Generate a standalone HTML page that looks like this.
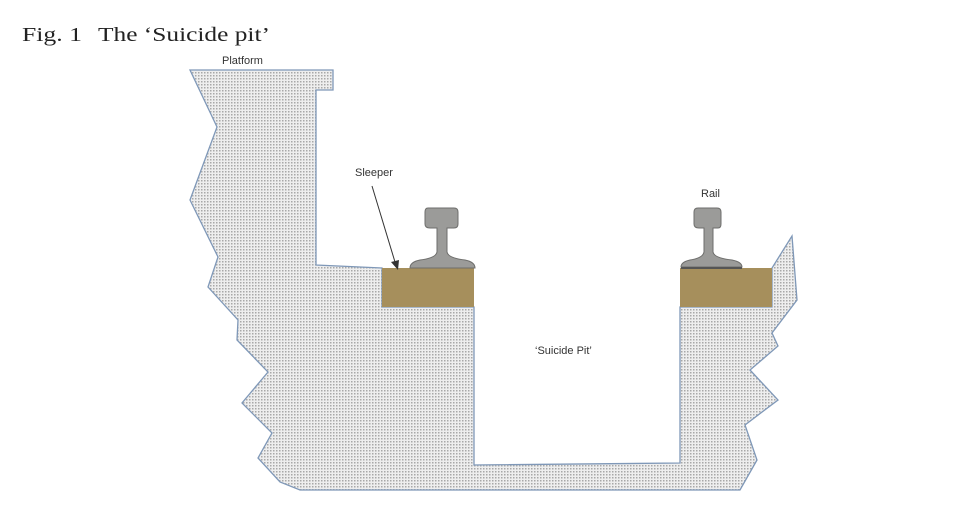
<!DOCTYPE html>
<html><head><style>
body{margin:0;background:#fff;}
svg{display:block}
</style></head><body>
<svg width="970" height="513" viewBox="0 0 970 513" xmlns="http://www.w3.org/2000/svg">
<defs>
<pattern id="dots" width="3" height="3" patternUnits="userSpaceOnUse">
<rect width="3" height="3" fill="#eeeeee"/>
<rect x="0" y="0" width="1.5" height="1.5" fill="#a8a8a8"/>
</pattern>
</defs>
<text x="22" y="41" font-family="Liberation Serif, serif" font-size="20" fill="#222" textLength="60" lengthAdjust="spacingAndGlyphs">Fig. 1</text>
<text x="98" y="41" font-family="Liberation Serif, serif" font-size="20" fill="#222" textLength="172" lengthAdjust="spacingAndGlyphs">The ‘Suicide pit’</text>
<path d="M190,70 L333,70 L333,90 L316,90 L316,265 L382,268 L382,307 L474,307 L474,465 L680,463 L680,307 L772,307 L772,268 L792,236 L797,300 L772,333 L778,346 L750,370 L778,400 L745,425 L757,460 L740,490 L300,490 L280,482 L258,458 L272,433 L242,403 L268,372 L237,340 L238,320 L208,287 L218,257 L190,200 L217,127 Z" fill="url(#dots)" stroke="#7f98b8" stroke-width="1.3"/>
<rect x="382" y="268" width="92" height="39" fill="#a68f5c"/>
<rect x="680" y="268" width="92" height="39" fill="#a68f5c"/>
<path d="M428,208 Q425,208 425,212 L425,224 Q425,228 430,228 L437,228 L437,252 Q436,258 420,260 Q410,262 410,268 L475,268 Q475,262 465,260 Q448,258 447,252 L447,228 L454,228 Q458,228 458,224 L458,212 Q458,208 454,208 Z" fill="#9b9b99" stroke="#6e6e6c" stroke-width="1"/>
<path d="M698,208 Q694,208 694,212 L694,224 Q694,228 699,228 L704,228 L704,252 Q703,258 690,260 Q681,262 681,267 L742,267 Q742,262 732,260 Q714,258 713,252 L713,228 L718,228 Q721,228 721,224 L721,212 Q721,208 717,208 Z" fill="#9b9b99" stroke="#6e6e6c" stroke-width="1"/>
<line x1="681" y1="268" x2="742" y2="268" stroke="#555" stroke-width="2"/>
<line x1="372" y1="186" x2="395" y2="262" stroke="#333" stroke-width="1"/>
<path d="M391,262 L398,270 L399,260 Z" fill="#333"/>
<g font-family="Liberation Sans, sans-serif" font-size="11" fill="#333">
<text x="222" y="64">Platform</text>
<text x="355" y="176">Sleeper</text>
<text x="701" y="197">Rail</text>
<text x="535" y="354">‘Suicide Pit’</text>
</g>
</svg>
</body></html>
